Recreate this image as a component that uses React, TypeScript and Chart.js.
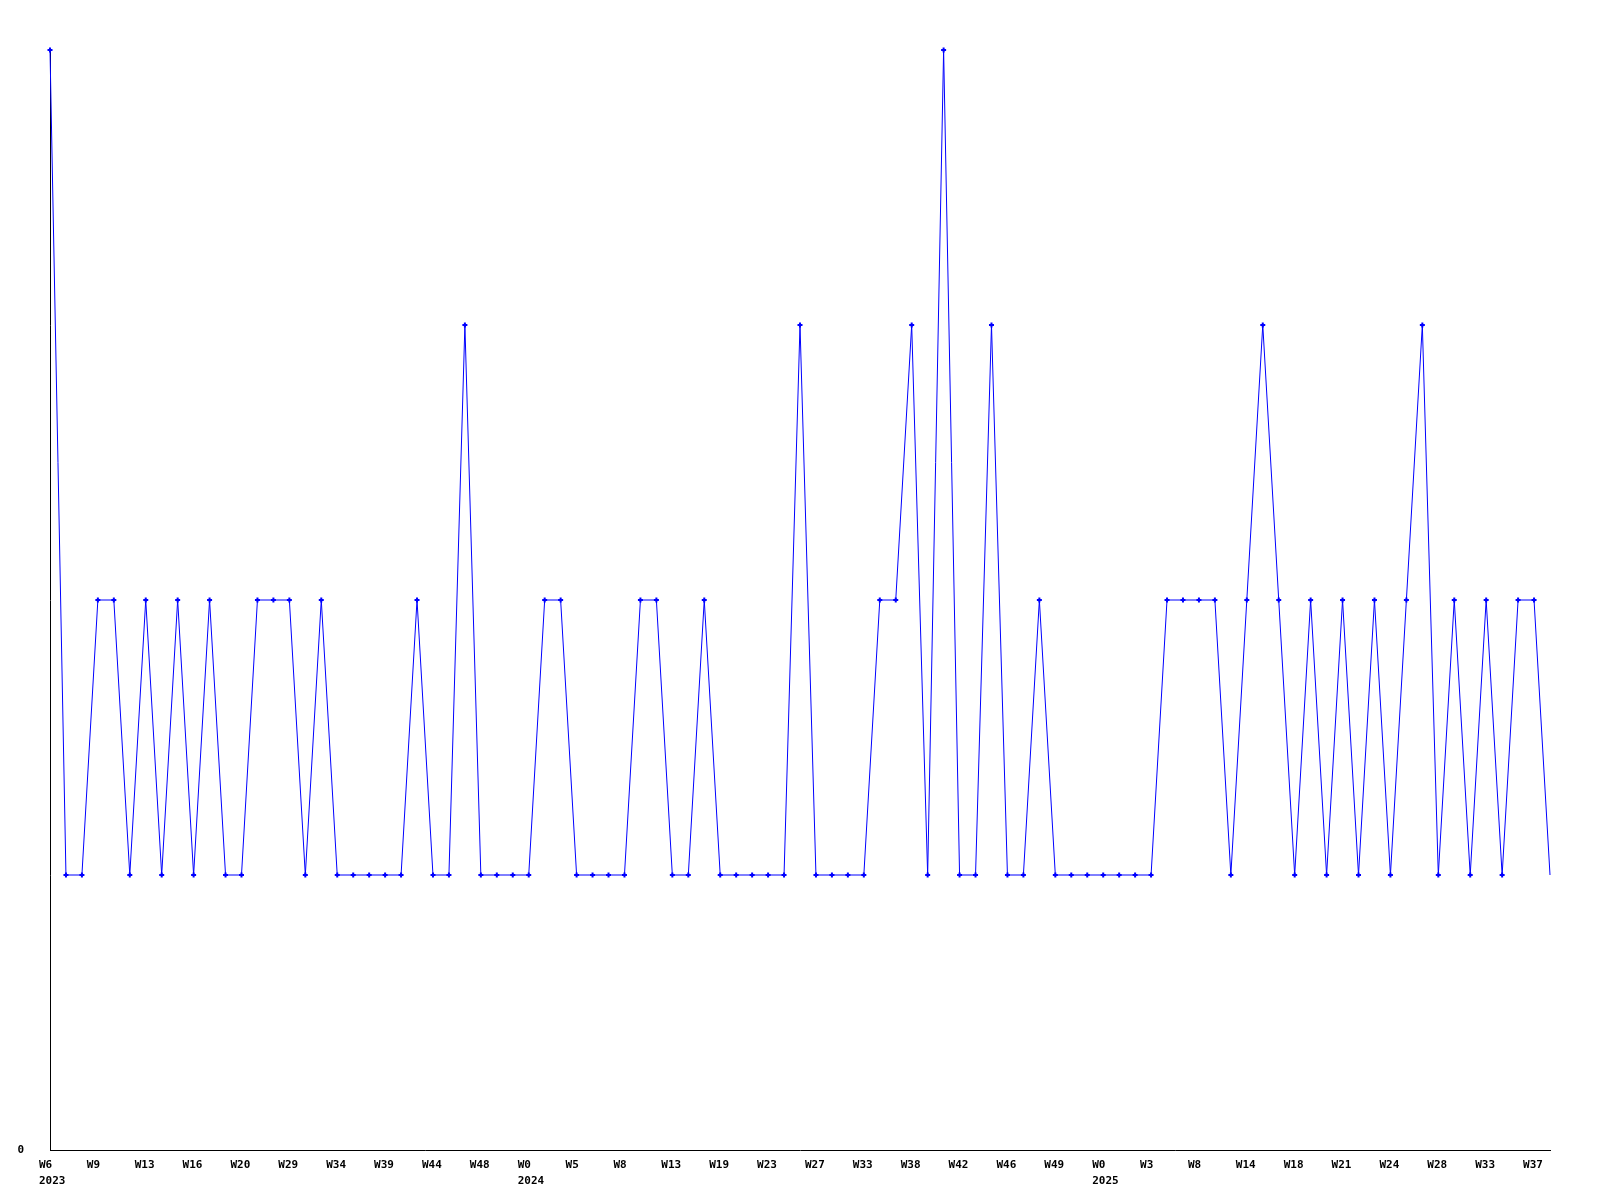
import React, { useEffect, useRef } from "react";
import { Chart, registerables } from "chart.js";

Chart.register(...registerables);

const weeks2023 = ["W6","W7","W8","W9","W10","W12","W13","W14","W15","W16","W17","W19","W20","W22","W25","W29","W31","W33","W34","W36","W37","W39","W41","W43","W44","W45","W47","W48","W50","W51"];
const weeks2024 = ["W0","W2","W4","W5","W6","W7","W8","W10","W12","W13","W15","W17","W19","W20","W22","W23","W24","W26","W27","W29","W31","W33","W35","W36","W38","W39","W40","W42","W43","W44","W46","W47","W48","W49","W50","W51"];
const weeks2025 = ["W0","W1","W2","W3","W5","W6","W8","W10","W12","W14","W15","W17","W18","W19","W20","W21","W22","W23","W24","W25","W27","W28","W30","W31","W33","W34","W36","W37","W38"];

const years = ["2023", "2024", "2025"];

const values = [
  4, 1, 1, 2, 2, 1, 2, 1, 2, 1,
  2, 1, 1, 2, 2, 2, 1, 2, 1, 1,
  1, 1, 1, 2, 1, 1, 3, 1, 1, 1,
  1, 2, 2, 1, 1, 1, 1, 2, 2, 1,
  1, 2, 1, 1, 1, 1, 1, 3, 1, 1,
  1, 1, 2, 2, 3, 1, 4, 1, 1, 3,
  1, 1, 2, 1, 1, 1, 1, 1, 1, 1,
  2, 2, 2, 2, 1, 2, 3, 2, 1, 2,
  1, 2, 1, 2, 1, 2, 3, 1, 2, 1,
  2, 1, 2, 2, 1,
];

const yTickLabels = ["0"];
const labelEvery = 3;

const categories: string[] = [...weeks2023, ...weeks2024, ...weeks2025];
const yearStarts: Record<number, string> = {
  0: years[0],
  [weeks2023.length]: years[1],
  [weeks2023.length + weeks2024.length]: years[2],
};

export default function App() {
  const ref = useRef<HTMLCanvasElement | null>(null);

  useEffect(() => {
    if (!ref.current) return;
    const font = { family: "'DejaVu Sans Mono', monospace", size: 11, weight: "bold" as const, lineHeight: 16 / 11 };
    const chart = new Chart(ref.current, {
      type: "line",
      data: {
        labels: categories,
        datasets: [
          {
            data: values,
            borderColor: "#0000ff",
            backgroundColor: "#0000ff",
            borderWidth: 1,
            tension: 0,
            fill: false,
            pointStyle: "cross",
            pointRadius: (c: any) => (c.dataIndex === values.length - 1 ? 0 : 2.5),
            pointBorderWidth: 2,
            pointBorderColor: "#0000ff",
            clip: false,
          },
        ],
      },
      options: {
        animation: false,
        responsive: false,
        devicePixelRatio: 1,
        layout: { padding: { top: 50, right: 50, bottom: 0, left: 0 } },
        plugins: { legend: { display: false }, tooltip: { enabled: false }, title: { display: false } },
        scales: {
          x: {
            type: "category",
            offset: false,
            grid: { display: false, drawTicks: false },
            border: { display: true, color: "#000000", width: 1 },
            afterFit: (s: any) => { s.height = 50; },
            ticks: {
              autoSkip: false,
              maxRotation: 0,
              minRotation: 0,
              align: "start",
              labelOffset: -11,
              padding: 7,
              color: "#000000",
              font,
              callback: (_v: any, i: number) => {
                if (i % labelEvery !== 0) return "";
                const w = categories[i];
                return yearStarts[i] ? [w, yearStarts[i]] : w;
              },
            },
          },
          y: {
            min: 0,
            max: 4,
            grid: { display: false, drawTicks: false },
            border: { display: true, color: "#000000", width: 1 },
            afterFit: (s: any) => { s.width = 50; },
            ticks: {
              stepSize: 1,
              padding: 26,
              color: "#000000",
              font,
              callback: (v: any) => (v === 0 ? yTickLabels[0] : ""),
            },
          },
        },
      },
    });
    return () => chart.destroy();
  }, []);

  return (
    <div style={{ position: "fixed", left: 0, top: 0, width: 1600, height: 1200, background: "#ffffff" }}>
      <canvas ref={ref} width={1600} height={1200} style={{ width: 1600, height: 1200 }} />
    </div>
  );
}
